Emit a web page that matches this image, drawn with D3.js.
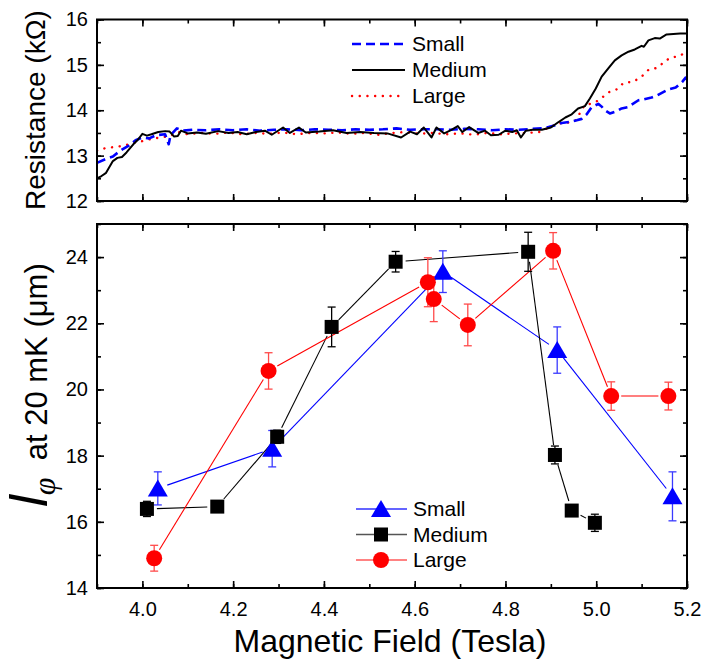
<!DOCTYPE html>
<html>
<head>
<meta charset="utf-8">
<script src="https://cdn.jsdelivr.net/npm/d3@7"></script>
<style>
  html, body { margin: 0; padding: 0; background: #fff; }
  svg { display: block; font-family: "Liberation Sans", Arial, sans-serif; }
</style>
</head>
<body>
<svg id="chart" width="704" height="661"></svg>
<script>
// ---------- Top panel: resistance curves ----------
const mediumB = [3.90,3.91,3.92,3.935,3.945,3.955,3.965,3.98,3.99,4.00,4.01,4.02,4.035,4.05,4.06,4.07,4.078,4.085,4.10,4.12,4.14,4.167,4.19,4.21,4.23,4.25,4.27,4.285,4.31,4.325,4.345,4.36,4.39,4.42,4.45,4.48,4.51,4.54,4.57,4.59,4.605,4.62,4.637,4.648,4.665,4.68,4.695,4.705,4.72,4.74,4.755,4.768,4.785,4.80,4.815,4.825,4.834,4.845,4.86,4.88,4.90,4.917,4.932,4.946,4.96,4.975,4.986,4.999,5.012,5.027,5.041,5.056,5.071,5.085,5.100,5.105,5.115,5.129,5.140,5.155,5.17,5.185,5.20];
const mediumR = [12.50,12.55,12.62,12.88,12.95,12.97,13.07,13.25,13.35,13.48,13.44,13.47,13.52,13.54,13.53,13.42,13.43,13.55,13.49,13.51,13.48,13.54,13.50,13.52,13.47,13.52,13.55,13.46,13.62,13.50,13.62,13.51,13.53,13.56,13.50,13.52,13.50,13.49,13.40,13.53,13.47,13.62,13.40,13.62,13.49,13.56,13.65,13.52,13.63,13.50,13.55,13.45,13.46,13.55,13.52,13.56,13.40,13.55,13.57,13.57,13.62,13.74,13.84,13.91,14.04,14.09,14.26,14.48,14.74,14.93,15.10,15.21,15.29,15.34,15.42,15.40,15.54,15.59,15.58,15.67,15.68,15.69,15.69];

const smallB = [3.90,3.92,3.935,3.95,3.97,3.985,4.00,4.015,4.03,4.05,4.058,4.062,4.076,4.09,4.11,4.14,4.17,4.20,4.23,4.26,4.29,4.32,4.35,4.38,4.41,4.44,4.47,4.50,4.53,4.56,4.59,4.62,4.65,4.68,4.71,4.74,4.77,4.80,4.83,4.86,4.88,4.895,4.91,4.924,4.94,4.957,4.968,4.979,4.99,5.005,5.012,5.019,5.03,5.045,5.056,5.07,5.093,5.105,5.122,5.135,5.159,5.175,5.19,5.197,5.20];
const smallR = [12.84,12.93,12.98,13.10,13.22,13.34,13.40,13.38,13.45,13.47,13.25,13.45,13.60,13.55,13.57,13.56,13.58,13.56,13.58,13.55,13.57,13.58,13.56,13.58,13.57,13.56,13.58,13.57,13.58,13.60,13.57,13.58,13.58,13.57,13.59,13.58,13.56,13.58,13.57,13.59,13.60,13.63,13.67,13.72,13.74,13.78,13.81,13.91,14.07,14.14,14.08,14.00,13.93,13.98,14.04,14.07,14.22,14.24,14.28,14.33,14.46,14.50,14.63,14.72,14.68];

const largeB = [3.90,3.92,3.94,3.96,3.98,4.00,4.02,4.04,4.06,4.08,4.10,4.13,4.16,4.19,4.22,4.25,4.28,4.31,4.34,4.37,4.40,4.43,4.46,4.49,4.52,4.55,4.58,4.61,4.64,4.67,4.70,4.73,4.76,4.79,4.82,4.85,4.875,4.898,4.918,4.935,4.955,4.974,4.99,5.006,5.026,5.045,5.061,5.08,5.10,5.116,5.133,5.151,5.163,5.183,5.20];
const largeR = [13.11,13.17,13.19,13.22,13.28,13.32,13.37,13.40,13.43,13.52,13.47,13.50,13.48,13.51,13.47,13.50,13.48,13.51,13.47,13.50,13.49,13.51,13.48,13.50,13.46,13.50,13.52,13.48,13.50,13.47,13.49,13.46,13.50,13.47,13.49,13.50,13.52,13.63,13.71,13.72,13.78,14.11,14.15,14.22,14.39,14.46,14.61,14.62,14.74,14.90,14.93,15.07,15.16,15.19,15.30];

const topYTicks = [12, 13, 14, 15, 16];

// ---------- Bottom panel: dephasing length ----------
const smallField = [4.034, 4.286, 4.662, 4.914, 5.168];
const smallL     = [17.01, 18.21, 23.56, 21.19, 16.77];
const smallErr   = [0.50, 0.55, 0.63, 0.70, 0.74];

const mediumField = [4.010, 4.165, 4.297, 4.417, 4.558, 4.850, 4.909, 4.946, 4.997];
const mediumL     = [16.39, 16.46, 18.57, 21.89, 23.86, 24.16, 18.02, 16.34, 15.97];
const mediumErr   = [0.23, 0.08, 0.20, 0.60, 0.31, 0.59, 0.27, 0.08, 0.26];

const largeField = [4.026, 4.278, 4.629, 4.642, 4.717, 4.905, 5.033, 5.159];
const largeL     = [14.90, 20.56, 23.24, 22.73, 21.95, 24.19, 19.80, 19.80];
const largeErr   = [0.39, 0.55, 0.74, 0.68, 0.63, 0.55, 0.43, 0.42];

const xTicks = [4.0, 4.2, 4.4, 4.6, 4.8, 5.0, 5.2];
const botYTicks = [14, 16, 18, 20, 22, 24];
const seriesNames = ["Small", "Medium", "Large"];

// ---------- Drawing ----------
const svg = d3.select("#chart");
const FONT = "'Liberation Sans', Arial, sans-serif";

const x = d3.scaleLinear().domain([3.9, 5.2]).range([97, 687]);
const yTop = d3.scaleLinear().domain([12, 16]).range([201, 19.5]);
const yBot = d3.scaleLinear().domain([14, 25]).range([588, 224]);

function frameAxes(yScale, majorY, minorStepY, labelled) {
  const g = svg.append("g");
  const [x0, x1] = x.range();
  const [yb, yt] = yScale.range();
  const minorX = d3.range(3.9, 5.2001, 0.1).map(v => +v.toFixed(2));
  const minorY = d3.range(yScale.domain()[0], yScale.domain()[1] + 0.001, minorStepY);

  g.append("g").attr("transform", `translate(${x0},0)`)
    .call(d3.axisLeft(yScale).tickValues(minorY).tickSize(-4).tickFormat(""));
  g.append("g").attr("transform", `translate(${x0},0)`)
    .call(d3.axisLeft(yScale).tickValues(majorY).tickSize(-7).tickPadding(9).tickFormat(d3.format("d")));
  g.append("g").attr("transform", `translate(${x1},0)`)
    .call(d3.axisRight(yScale).tickValues(minorY).tickSize(-4).tickFormat(""));
  g.append("g").attr("transform", `translate(${x1},0)`)
    .call(d3.axisRight(yScale).tickValues(majorY).tickSize(-7).tickFormat(""));
  g.append("g").attr("transform", `translate(0,${yb})`)
    .call(d3.axisBottom(x).tickValues(minorX).tickSize(-4).tickFormat(""));
  g.append("g").attr("transform", `translate(0,${yb})`)
    .call(d3.axisBottom(x).tickValues(xTicks).tickSize(-7).tickPadding(14)
      .tickFormat(labelled ? d3.format(".1f") : ""));
  g.append("g").attr("transform", `translate(0,${yt})`)
    .call(d3.axisTop(x).tickValues(minorX).tickSize(-4).tickFormat(""));
  g.append("g").attr("transform", `translate(0,${yt})`)
    .call(d3.axisTop(x).tickValues(xTicks).tickSize(-7).tickFormat(""));

  g.selectAll(".domain").remove();
  g.selectAll(".tick line").attr("stroke", "#000").attr("stroke-width", 1.6);
  g.selectAll(".tick text").attr("fill", "#000").attr("font-size", 20).attr("font-family", FONT);

  g.append("rect").attr("x", x0).attr("y", yt).attr("width", x1 - x0).attr("height", yb - yt)
    .attr("fill", "none").attr("stroke", "#000").attr("stroke-width", 2);
  return g;
}

// ---- top panel curves ----
svg.append("clipPath").attr("id", "clipTop")
  .append("rect").attr("x", x.range()[0]).attr("y", yTop.range()[1])
  .attr("width", x.range()[1] - x.range()[0]).attr("height", yTop.range()[0] - yTop.range()[1]);

const lineTop = d3.line().x(d => x(d[0])).y(d => yTop(d[1]));
const topCurves = [
  { b: largeB, r: largeR, color: "#ff0000", width: 2.4, dash: "0.1,7.6", cap: "round" },
  { b: smallB, r: smallR, color: "#0000ff", width: 2.6, dash: "9,5", cap: "butt" },
  { b: mediumB, r: mediumR, color: "#000000", width: 2, dash: null, cap: "butt" }
];
const gTop = svg.append("g").attr("clip-path", "url(#clipTop)");
topCurves.forEach(c => {
  gTop.append("path").datum(c.b.map((v, i) => [v, c.r[i]]))
    .attr("d", lineTop).attr("fill", "none").attr("stroke", c.color)
    .attr("stroke-width", c.width).attr("stroke-dasharray", c.dash)
    .attr("stroke-linecap", c.cap).attr("stroke-linejoin", "round");
});
frameAxes(yTop, topYTicks, 0.5, false);

// top legend
const topLeg = [
  { name: seriesNames[0], color: "#0000ff", width: 2.6, dash: "9,5", cap: "butt" },
  { name: seriesNames[1], color: "#000000", width: 2.2, dash: null, cap: "butt" },
  { name: seriesNames[2], color: "#ff0000", width: 2.4, dash: "0.1,7.6", cap: "round" }
];
topLeg.forEach((l, i) => {
  const yy = 44 + i * 26;
  svg.append("line").attr("x1", 352).attr("x2", 405).attr("y1", yy).attr("y2", yy)
    .attr("stroke", l.color).attr("stroke-width", l.width).attr("stroke-dasharray", l.dash)
    .attr("stroke-linecap", l.cap);
  svg.append("text").attr("x", 412).attr("y", yy + 7).attr("font-size", 21)
    .attr("font-family", FONT).text(l.name);
});

// ---- bottom panel ----
const botSeries = [
  { f: smallField, v: smallL, e: smallErr, color: "#0000ff", err: "#3a3aff", legLine: "#3030ff", marker: "tri" },
  { f: mediumField, v: mediumL, e: mediumErr, color: "#000000", err: "#000000", legLine: "#555555", marker: "sq" },
  { f: largeField, v: largeL, e: largeErr, color: "#ff0000", err: "#ff4a4a", legLine: "#ff5a5a", marker: "circ" }
];

function drawMarker(g, type, cx, cy, color) {
  if (type === "circ") {
    g.append("circle").attr("cx", cx).attr("cy", cy).attr("r", 8).attr("fill", color);
  } else if (type === "sq") {
    g.append("rect").attr("x", cx - 7).attr("y", cy - 7).attr("width", 14).attr("height", 14).attr("fill", color);
  } else {
    g.append("path").attr("d", `M${cx},${cy - 9}L${cx + 10},${cy + 8}L${cx - 10},${cy + 8}Z`).attr("fill", color);
  }
}

const gBot = svg.append("g");
const gap = 10;
botSeries.forEach(s => {
  for (let i = 0; i < s.f.length - 1; i++) {
    const x1 = x(s.f[i]), y1 = yBot(s.v[i]), x2 = x(s.f[i + 1]), y2 = yBot(s.v[i + 1]);
    const len = Math.hypot(x2 - x1, y2 - y1);
    if (len <= 2 * gap) continue;
    const ux = (x2 - x1) / len, uy = (y2 - y1) / len;
    gBot.append("line")
      .attr("x1", x1 + ux * gap).attr("y1", y1 + uy * gap)
      .attr("x2", x2 - ux * gap).attr("y2", y2 - uy * gap)
      .attr("stroke", s.color).attr("stroke-width", 1.1);
  }
});
botSeries.forEach(s => {
  s.f.forEach((f, i) => {
    const cx = x(f), top = yBot(s.v[i] + s.e[i]), bot = yBot(s.v[i] - s.e[i]);
    gBot.append("line").attr("x1", cx).attr("x2", cx).attr("y1", top).attr("y2", bot)
      .attr("stroke", s.err).attr("stroke-width", 1.3);
    [top, bot].forEach(yy => gBot.append("line").attr("x1", cx - 4).attr("x2", cx + 4)
      .attr("y1", yy).attr("y2", yy).attr("stroke", s.err).attr("stroke-width", 1.3));
  });
});
botSeries.forEach(s => {
  s.f.forEach((f, i) => drawMarker(gBot, s.marker, x(f), yBot(s.v[i]), s.color));
});

frameAxes(yBot, botYTicks, 1, true);

// bottom legend
botSeries.forEach((s, i) => {
  const yy = 509 + i * 25.5;
  svg.append("line").attr("x1", 356).attr("x2", 407).attr("y1", yy).attr("y2", yy)
    .attr("stroke", s.legLine).attr("stroke-width", 1.3);
  drawMarker(svg, s.marker, 381, yy, s.color);
  svg.append("text").attr("x", 413).attr("y", yy + 7).attr("font-size", 21)
    .attr("font-family", FONT).text(seriesNames[i]);
});

// ---- axis titles ----
svg.append("text").attr("x", 390).attr("y", 652).attr("text-anchor", "middle")
  .attr("font-size", 32).attr("font-family", FONT).text("Magnetic Field (Tesla)");

svg.append("text").attr("transform", "translate(45,110) rotate(-90)")
  .attr("text-anchor", "middle").attr("font-size", 28).attr("font-family", FONT)
  .text("Resistance (k\u03A9)");

const yl = svg.append("text").attr("transform", "translate(47,385) rotate(-90)")
  .attr("text-anchor", "middle").attr("font-family", FONT);
yl.append("tspan").attr("font-size", 52).attr("font-style", "italic").text("l");
yl.append("tspan").attr("font-size", 32).attr("font-style", "italic")
  .attr("font-family", "'Liberation Serif', 'DejaVu Serif', serif").attr("dy", 8).text("\u03C6");
yl.append("tspan").attr("font-size", 31).attr("dy", -8).text("\u00A0 at 20 mK (\u03BCm)");
</script>
</body>
</html>
